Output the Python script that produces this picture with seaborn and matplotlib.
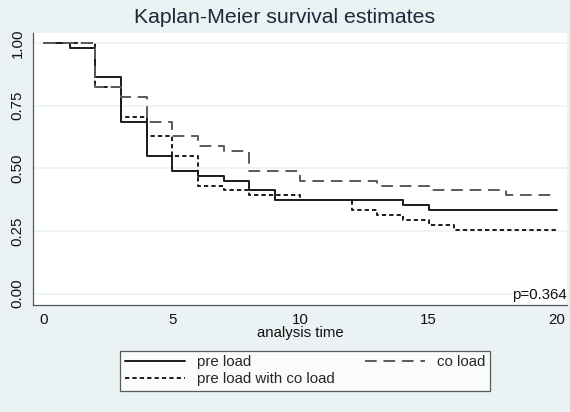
import numpy as np
import pandas as pd
import matplotlib
matplotlib.use('Agg')
import matplotlib.pyplot as plt
import seaborn as sns

# Kaplan-Meier step values
pre_t = [0, 1, 2, 3, 4, 5, 6, 7, 8, 9, 14, 15, 20]
pre_s = [1.0, 0.980, 0.863, 0.686, 0.549, 0.490, 0.471, 0.451, 0.412, 0.373, 0.353, 0.333, 0.333]

co_t = [0, 2, 3, 4, 5, 6, 7, 8, 10, 13, 15, 18, 20]
co_s = [1.0, 0.824, 0.784, 0.686, 0.627, 0.588, 0.569, 0.490, 0.451, 0.431, 0.412, 0.392, 0.392]

both_t = [0, 2, 3, 4, 5, 6, 7, 8, 10, 12, 13, 14, 15, 16, 20]
both_s = [1.0, 0.824, 0.706, 0.627, 0.549, 0.431, 0.412, 0.392, 0.373, 0.333, 0.314, 0.294, 0.275, 0.255, 0.255]

groups = ['pre load', 'pre load with co load', 'co load']
xticks = [0, 5, 10, 15, 20]
yticks = [0.0, 0.25, 0.5, 0.75, 1.0]
p_text = 'p=0.364'

df = pd.concat([
    pd.DataFrame({'time': pre_t, 'surv': pre_s, 'group': groups[0]}),
    pd.DataFrame({'time': both_t, 'surv': both_s, 'group': groups[1]}),
    pd.DataFrame({'time': co_t, 'surv': co_s, 'group': groups[2]}),
])

bg = '#EAF2F3'
sns.set_style('white')
plt.rcParams['font.family'] = ['Liberation Sans', 'DejaVu Sans']

fig = plt.figure(figsize=(5.7, 4.12), dpi=100, facecolor=bg)
ax = fig.add_axes([0.058, 0.26, 0.937, 0.66])
ax.set_facecolor('white')

palette = {groups[0]: '#1a1a1a', groups[1]: '#1a1a1a', groups[2]: '#5a5a5a'}
dashes = {groups[0]: '', groups[1]: (2.2, 1.6), groups[2]: (6, 3.5)}
sns.lineplot(data=df, x='time', y='surv', hue='group', style='group',
             hue_order=groups, style_order=groups, palette=palette, dashes=dashes,
             drawstyle='steps-post', estimator=None, linewidth=1.4, ax=ax)

ax.set_xlim(-0.43, 20.4)
ax.set_ylim(-0.045, 1.04)
ax.set_xticks(xticks)
ax.set_yticks(yticks)
ax.set_yticklabels([f'{v:.2f}' for v in yticks], rotation=90, va='center')
ax.tick_params(axis='both', direction='out', length=4, width=0.8, color='#555555',
               labelsize=10.8, labelcolor='#111111', pad=2)
ax.grid(axis='y', color=bg, linewidth=1.2)
ax.set_axisbelow(True)
for side in ['top', 'right']:
    ax.spines[side].set_visible(False)
for side in ['left', 'bottom']:
    ax.spines[side].set_color('#555555')
    ax.spines[side].set_linewidth(0.9)

ax.set_xlabel('analysis time', fontsize=10.8, color='#111111', labelpad=-1)
ax.set_ylabel('')
# p-value sits just above the zero line, flush right
ax.text(0.999, 0.012, p_text, transform=ax.transAxes,
        ha='right', va='bottom', fontsize=10.8, color='#111111')
fig.suptitle('Kaplan-Meier survival estimates', y=0.98, fontsize=15.3, color='#1e2a3c')

handles, labels = ax.get_legend_handles_labels()
ax.legend(handles, labels, ncol=2, loc='center', bbox_to_anchor=(0.535, 0.1),
          bbox_transform=fig.transFigure, frameon=True, fancybox=False,
          edgecolor='#333333', facecolor='white', fontsize=10.8, handlelength=4.0,
          columnspacing=2.0, borderpad=0.3, labelspacing=0.2, handletextpad=0.8)
ax.get_legend().get_frame().set_linewidth(0.9)

fig.savefig('out.png', dpi=100, facecolor=bg)
